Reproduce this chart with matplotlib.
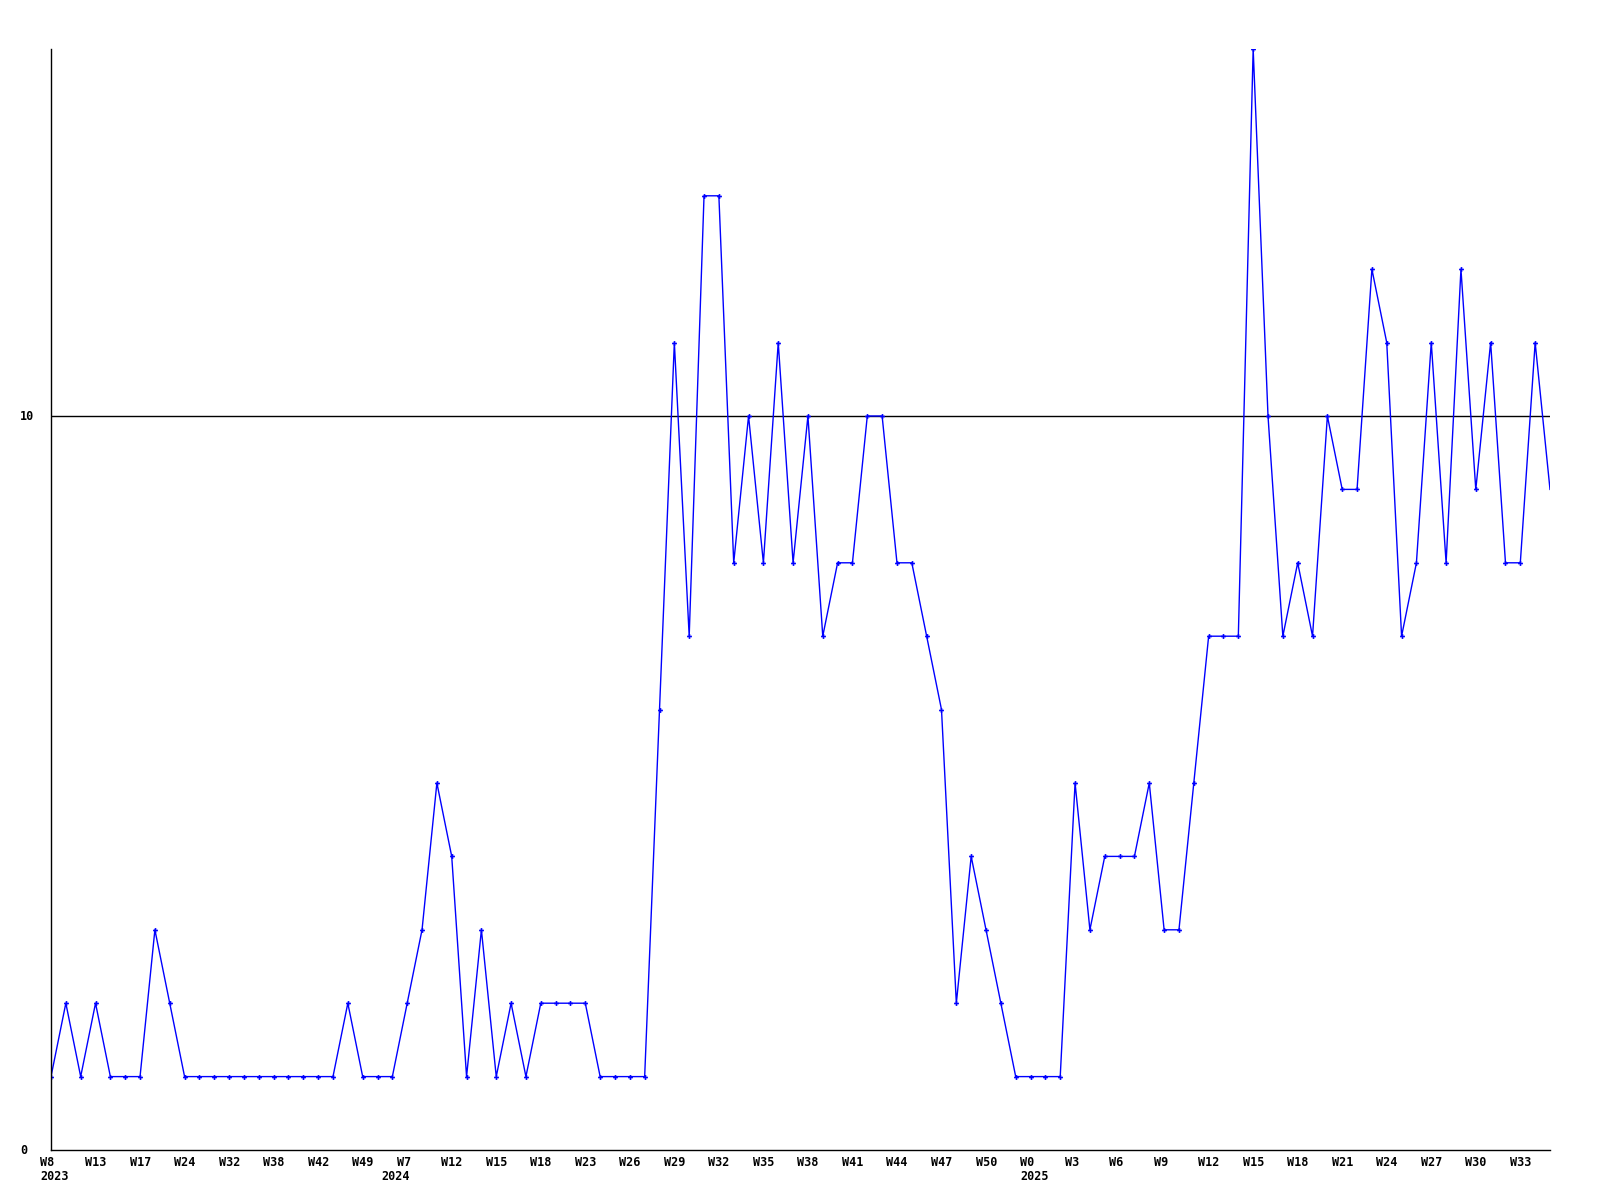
import matplotlib
matplotlib.use("Agg")
import matplotlib.pyplot as plt
import matplotlib.transforms as mtransforms
import numpy as np

# weekly counts, one value per point
values = [1, 2, 1, 2, 1, 1, 1, 3, 2, 1,
          1, 1, 1, 1, 1, 1, 1, 1, 1, 1,
          2, 1, 1, 1, 2, 3, 5, 4, 1, 3,
          1, 2, 1, 2, 2, 2, 2, 1, 1, 1,
          1, 6, 11, 7, 13, 13, 8, 10, 8, 11,
          8, 10, 7, 8, 8, 10, 10, 8, 8, 7,
          6, 2, 4, 3, 2, 1, 1, 1, 1, 5,
          3, 4, 4, 4, 5, 3, 3, 5, 7, 7,
          7, 15, 10, 7, 8, 7, 10, 9, 9, 12,
          11, 7, 8, 11, 8, 12, 9, 11, 8, 8,
          11, 9]

# tick labels, every third point
week_labels = ["W8", "W13", "W17", "W24", "W32", "W38", "W42", "W49", "W7", "W12",
               "W15", "W18", "W23", "W26", "W29", "W32", "W35", "W38", "W41", "W44",
               "W47", "W50", "W0", "W3", "W6", "W9", "W12", "W15", "W18", "W21",
               "W24", "W27", "W30", "W33"]
years = ["2023", "2024", "2025"]
year_pos = [0, 23, 66]  # point index under which each year is written
threshold = 10

x = np.arange(len(values))

fig = plt.figure(figsize=(16, 12), dpi=100)
ax = fig.add_axes([51 / 1600, 1 - 1150 / 1200, 1499 / 1600, 1101 / 1200])
ax.set_xlim(0, len(values) - 1)
ax.set_ylim(0, 15)

ax.axhline(threshold, color="black", lw=1.0, zorder=1)
# last point sits on the right edge without a marker
ax.plot(x, values, color="#0000ff", lw=1.0, marker="P", markersize=3.5,
        markeredgewidth=0, markevery=list(range(len(values) - 1)), zorder=2)

for s in ["top", "right"]:
    ax.spines[s].set_visible(False)
for s in ["left", "bottom"]:
    ax.spines[s].set_linewidth(1.0)
ax.set_xticks([])
ax.set_yticks([])

font = dict(family="DejaVu Sans Mono", fontweight="bold", fontsize=8.5)

trans_x = mtransforms.blended_transform_factory(ax.transData, ax.transAxes)
lab_tr = mtransforms.offset_copy(trans_x, fig=fig, x=-10.5, y=-12, units="dots")
year_tr = mtransforms.offset_copy(trans_x, fig=fig, x=-10.5, y=-27, units="dots")
for k, lab in enumerate(week_labels):
    ax.text(3 * k, 0, lab, transform=lab_tr, ha="left", va="center", **font)
for yr, p in zip(years, year_pos):
    ax.text(p, 0, yr, transform=year_tr, ha="left", va="center", **font)

trans_y = mtransforms.blended_transform_factory(ax.transAxes, ax.transData)
ylab_tr = mtransforms.offset_copy(trans_y, fig=fig, x=-31, y=0, units="dots")
for v in [0, threshold]:
    ax.text(0, v, str(v), transform=ylab_tr, ha="left", va="center", **font)

fig.savefig("out.png", dpi=100)
